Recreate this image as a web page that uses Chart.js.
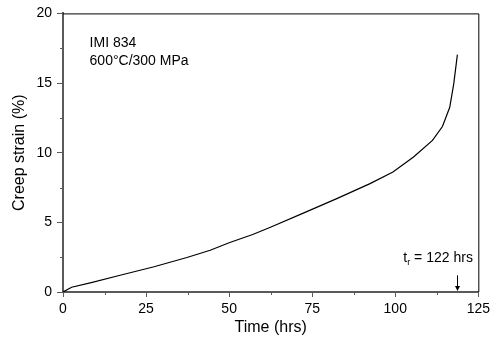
<!DOCTYPE html>
<html>
<head>
<meta charset="utf-8">
<script src="https://cdn.jsdelivr.net/npm/chart.js@4.4.0/dist/chart.umd.min.js"></script>
<style>
  html, body { margin: 0; padding: 0; background: #fff; }
  #wrap { width: 494px; height: 342px; }
</style>
</head>
<body>
<div id="wrap"><canvas id="grafico" width="494" height="342"></canvas></div>
<script>
// creep curve
const timeHrs = [0, 2.6, 8.5, 17.5, 27.4, 37.3, 44.3, 50.2, 57.1, 62.6, 72.5, 82.4, 92.4, 99.3, 105.5, 111.2, 114.2, 116.4, 117.6, 118.7];
const strainPct = [0, 0.34, 0.67, 1.22, 1.81, 2.48, 3.0, 3.55, 4.13, 4.67, 5.68, 6.7, 7.78, 8.61, 9.69, 10.88, 11.88, 13.26, 14.94, 17.04];

const xTicks = [0, 25, 50, 75, 100, 125];
const yTicks = [0, 5, 10, 15, 20];
const xMinor = [12.5, 37.5, 62.5, 87.5, 112.5];
const yMinor = [2.5, 7.5, 12.5, 17.5];

const infoLines = ['IMI 834', '600°C/300 MPa'];
const ruptureTime = 118.6;
const ruptureLabel = '122 hrs';

const fuente = '"Liberation Sans", Arial, Helvetica, sans-serif';
const ejeColor = '#5a5a5a';

const extras = {
  id: 'extras',
  afterDraw(c) {
    const ctx = c.ctx;
    const a = c.chartArea;
    const x = c.scales.x, y = c.scales.y;
    ctx.save();
    // top and right frame
    ctx.strokeStyle = '#000';
    ctx.lineWidth = 1;
    ctx.beginPath();
    ctx.moveTo(a.left, a.top + 0.5);
    ctx.lineTo(a.right + 0.5, a.top + 0.5);
    ctx.lineTo(a.right + 0.5, a.bottom);
    ctx.stroke();
    // minor ticks
    ctx.strokeStyle = ejeColor;
    ctx.lineWidth = 1;
    ctx.beginPath();
    xMinor.forEach(v => {
      const px = Math.round(x.getPixelForValue(v)) + 0.5;
      ctx.moveTo(px, a.bottom);
      ctx.lineTo(px, a.bottom + 3);
    });
    yMinor.forEach(v => {
      const py = Math.round(y.getPixelForValue(v)) + 0.5;
      ctx.moveTo(a.left, py);
      ctx.lineTo(a.left - 3, py);
    });
    ctx.stroke();
    // info text
    ctx.fillStyle = '#000';
    ctx.font = '14px ' + fuente;
    ctx.textBaseline = 'alphabetic';
    ctx.textAlign = 'left';
    ctx.fillText(infoLines[0], x.getPixelForValue(8.0), y.getPixelForValue(17.6));
    ctx.fillText(infoLines[1], x.getPixelForValue(8.0), y.getPixelForValue(16.3));
    // rupture label
    const tx = x.getPixelForValue(102.4);
    const ty = y.getPixelForValue(2.17);
    ctx.fillText('t', tx, ty);
    ctx.font = '9px ' + fuente;
    ctx.fillText('r', tx + 4, ty + 3);
    ctx.font = '14px ' + fuente;
    ctx.fillText(' = ' + ruptureLabel, tx + 7, ty);
    // arrow
    const ax = Math.round(x.getPixelForValue(ruptureTime)) + 0.5;
    const y0 = y.getPixelForValue(1.2);
    const y1 = y.getPixelForValue(0) - 1;
    ctx.strokeStyle = '#000';
    ctx.beginPath();
    ctx.moveTo(ax, y0);
    ctx.lineTo(ax, y1 - 3);
    ctx.stroke();
    ctx.beginPath();
    ctx.moveTo(ax - 2.5, y1 - 5);
    ctx.lineTo(ax + 2.5, y1 - 5);
    ctx.lineTo(ax, y1);
    ctx.closePath();
    ctx.fill();
    ctx.restore();
  }
};

new Chart(document.getElementById('grafico').getContext('2d'), {
  type: 'line',
  data: {
    datasets: [{
      data: timeHrs.map((t, i) => ({ x: t, y: strainPct[i] })),
      borderColor: '#000',
      borderWidth: 1.2,
      pointRadius: 0,
      fill: false,
      tension: 0
    }]
  },
  options: {
    responsive: false,
    animation: false,
    layout: { padding: { left: 0, top: 12, right: 8, bottom: 0 } },
    plugins: { legend: { display: false }, tooltip: { enabled: false } },
    scales: {
      x: {
        type: 'linear',
        min: 0, max: 125,
        afterFit: s => { s.height = 50; },
        afterBuildTicks: s => { s.ticks = xTicks.map(v => ({ value: v })); },
        ticks: { color: '#000', font: { family: fuente, size: 14 }, padding: 4, maxRotation: 0 },
        grid: { drawOnChartArea: false, drawTicks: true, tickLength: 5, color: ejeColor, tickColor: ejeColor },
        border: { color: ejeColor, width: 2 },
        title: { display: true, text: 'Time (hrs)', color: '#000', font: { family: fuente, size: 16 }, padding: { top: 0, bottom: 5 } }
      },
      y: {
        type: 'linear',
        min: 0, max: 20,
        afterFit: s => { s.width = 63; },
        afterBuildTicks: s => { s.ticks = yTicks.map(v => ({ value: v })); },
        ticks: { color: '#000', font: { family: fuente, size: 14 }, padding: 5 },
        grid: { drawOnChartArea: false, drawTicks: true, tickLength: 6, color: ejeColor, tickColor: ejeColor },
        border: { color: ejeColor, width: 2 },
        title: { display: true, text: 'Creep strain (%)', color: '#000', font: { family: fuente, size: 16 }, padding: { top: 10, bottom: 0 } }
      }
    }
  },
  plugins: [extras]
});
</script>
</body>
</html>
